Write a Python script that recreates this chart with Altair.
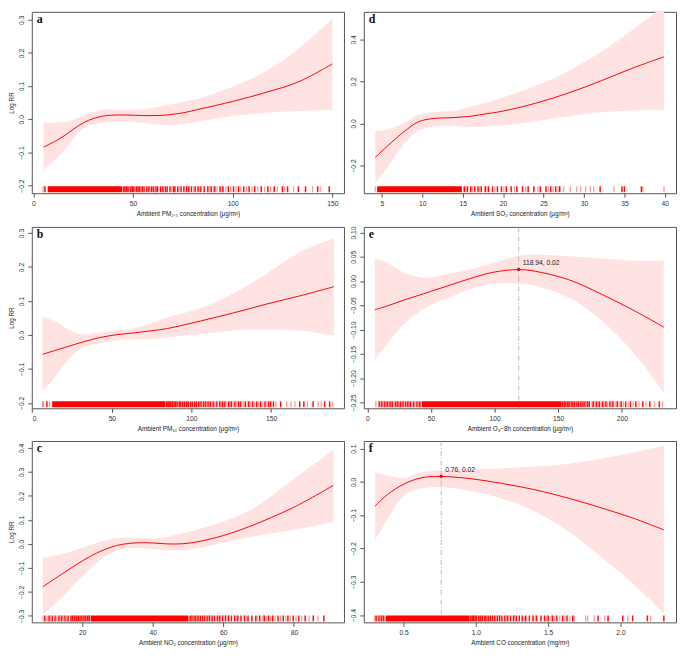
import altair as alt
import pandas as pd

W, H = 315, 183

# ---------------- panel a : PM2.5 ----------------
A_X = [5.1, 12.8, 17.8, 22.7, 27.7, 34.3, 42.5, 50.7, 59.0, 67.2, 75.4, 83.6, 100.1, 116.6, 133.0, 150.0]
A_FIT = [-0.084, -0.060, -0.040, -0.019, -0.003, 0.009, 0.013, 0.012, 0.011, 0.013, 0.020, 0.031, 0.054, 0.081, 0.113, 0.167]
A_LO = [-0.154, -0.111, -0.077, -0.040, -0.019, -0.011, -0.006, -0.008, -0.014, -0.017, -0.014, -0.006, 0.010, 0.020, 0.025, 0.028]
A_HI = [-0.011, -0.010, -0.006, 0.005, 0.018, 0.028, 0.029, 0.028, 0.034, 0.043, 0.053, 0.064, 0.099, 0.145, 0.213, 0.303]
A_RUG_BLOCK = [7.2, 44.6]
A_RUG_STRONG = [5.8, 45.3, 46.0, 46.8, 47.5, 48.9, 49.6, 50.4, 51.8, 52.5, 53.3, 54.6, 55.5, 56.9, 58.0, 59.2,
                60.1, 61.5, 62.3, 63.8, 65.0, 66.2, 67.1, 68.5, 70.3, 71.0, 72.4, 74.1, 75.5, 76.8, 78.0, 79.3,
                81.2, 82.6, 84.0, 85.7, 87.5, 89.2, 91.0, 93.6, 95.1, 97.8, 100.4, 102.9, 105.5, 108.2, 111.0,
                114.3, 117.6, 120.8, 124.9, 127.5, 132.9, 136.5, 142.6, 148.4]
A_RUG_LIGHT = [4.9, 48.2, 51.1, 54.0, 57.6, 60.8, 64.5, 69.4, 73.2, 77.5, 80.4, 83.3, 88.4, 90.3, 92.2, 94.5,
               96.5, 99.0, 101.7, 104.0, 106.8, 109.7, 112.6, 116.0, 119.0, 122.4, 126.0, 130.5, 140.1, 143.9]

# ---------------- panel d : SO2 ----------------
D_X = [4.19, 5.77, 7.8, 9.43, 11.05, 13.9, 15.9, 17.95, 20.0, 24.0, 28.1, 32.2, 36.2, 39.9]
D_FIT = [-0.162, -0.105, -0.038, 0.006, 0.022, 0.028, 0.034, 0.046, 0.059, 0.096, 0.145, 0.204, 0.266, 0.317]
D_LO = [-0.283, -0.205, -0.097, -0.036, -0.017, -0.012, -0.017, -0.015, -0.009, 0.011, 0.034, 0.053, 0.062, 0.065]
D_HI = [-0.036, -0.028, 0.003, 0.040, 0.053, 0.060, 0.080, 0.100, 0.124, 0.178, 0.250, 0.343, 0.451, 0.560]
D_RUG_BLOCK = [4.43, 14.9]
D_RUG_STRONG = [15.2, 15.6, 16.0, 16.5, 16.9, 17.3, 17.8, 18.2, 18.7, 19.3, 19.8, 20.4, 21.0, 21.7, 22.4, 23.1,
                23.8, 24.6, 25.3, 25.9, 26.5, 27.0, 32.0, 34.7, 35.0, 37.1]
D_RUG_LIGHT = [4.19, 15.4, 16.2, 17.1, 18.0, 19.0, 20.1, 21.4, 22.8, 24.3, 25.6, 26.2, 26.8, 27.5, 28.3, 29.1,
               29.6, 30.2, 30.8, 31.2, 33.7, 37.3, 39.9]

# ---------------- panel b : PM10 ----------------
B_X = [6.45, 14.1, 22.5, 30.8, 43.3, 53.7, 64.1, 74.5, 84.9, 105.7, 126.5, 147.3, 168.1, 189.5]
B_FIT = [-0.057, -0.046, -0.034, -0.022, -0.007, 0.001, 0.006, 0.012, 0.019, 0.041, 0.065, 0.091, 0.115, 0.142]
B_LO = [-0.165, -0.125, -0.074, -0.040, -0.024, -0.016, -0.013, -0.012, -0.007, 0.003, 0.013, 0.017, 0.013, -0.002]
B_HI = [0.053, 0.041, 0.017, 0.002, 0.008, 0.014, 0.020, 0.034, 0.051, 0.079, 0.123, 0.181, 0.243, 0.285]
B_RUG_BLOCK = [12.5, 83.6]
B_RUG_STRONG = [9.2, 84.4, 85.2, 86.0, 86.9, 88.0, 89.0, 89.8, 91.0, 92.3, 93.1, 94.5, 95.6, 96.8, 98.0, 99.4,
                100.5, 101.9, 103.2, 104.6, 106.0, 107.5, 109.0, 110.4, 112.0, 113.6, 116.0, 117.8, 119.5,
                121.0, 123.4, 125.0, 127.3, 129.5, 131.0, 133.8, 136.0, 138.4, 141.0, 143.5, 146.2, 148.5,
                149.8, 151.5, 156.0, 168.0, 170.6, 176.4, 183.7, 186.8]
B_RUG_LIGHT = [6.4, 7.0, 10.8, 85.6, 87.5, 90.5, 93.8, 97.4, 102.5, 105.3, 108.2, 111.2, 114.4, 115.4, 118.6,
               120.2, 122.3, 124.2, 126.1, 128.4, 130.2, 132.5, 135.0, 137.2, 139.7, 142.2, 144.8, 147.4,
               153.0, 159.8, 162.5, 165.0, 172.9, 179.6, 181.5, 188.7]

# ---------------- panel e : O3-8h ----------------
E_X = [5.9, 16.0, 28.9, 44.4, 54.8, 67.7, 80.6, 98.7, 118.6, 132.3, 158.1, 184.0, 209.8, 233.0]
E_FIT = [-0.059, -0.051, -0.039, -0.026, -0.017, -0.006, 0.005, 0.018, 0.0236, 0.020, 0.003, -0.027, -0.061, -0.095]
E_LO = [-0.162, -0.128, -0.088, -0.057, -0.044, -0.030, -0.017, -0.005, -0.005, -0.010, -0.034, -0.081, -0.149, -0.230]
E_HI = [0.046, 0.037, 0.017, 0.007, 0.010, 0.017, 0.024, 0.037, 0.052, 0.054, 0.051, 0.047, 0.042, 0.043]
E_RUG_BLOCK = [42.9, 152.7]
E_RUG_STRONG = [9.3, 11.4, 13.7, 15.7, 17.8, 19.6, 22.2, 24.0, 26.1, 28.1, 29.9, 31.8, 33.8, 36.4, 39.0, 41.1,
                153.5, 154.8, 156.0, 157.4, 158.6, 160.2, 161.5, 163.0, 164.7, 166.1, 167.8, 169.5, 171.0,
                172.8, 174.4, 177.5, 180.0, 182.3, 185.0, 187.5, 190.6, 193.0, 196.4, 199.5, 203.0, 206.8,
                211.0, 216.5, 222.0, 229.5]
E_RUG_LIGHT = [6.7, 10.5, 12.6, 14.8, 16.8, 18.7, 21.0, 23.1, 25.0, 27.1, 30.8, 32.8, 35.0, 37.7, 40.0, 42.0,
               155.4, 158.0, 162.2, 165.5, 168.6, 173.5, 176.6, 178.8, 181.2, 183.8, 186.2, 188.8, 191.8,
               194.8, 198.0, 201.2, 205.0, 209.0, 213.5, 219.0, 225.5, 232.0]
E_PEAK_X = [118.94]
E_PEAK_Y = [0.024]
E_PEAK_LABEL = ["118.94, 0.02"]

# ---------------- panel c : NO2 ----------------
C_X = [8.8, 14.1, 20.0, 25.3, 30.0, 34.7, 40.0, 44.1, 48.8, 53.4, 60.0, 67.5, 80.0, 91.2]
C_FIT = [-0.179, -0.127, -0.071, -0.030, -0.006, 0.004, 0.004, 0.000, 0.001, 0.011, 0.035, 0.073, 0.153, 0.244]
C_LO = [-0.295, -0.225, -0.136, -0.065, -0.027, -0.016, -0.021, -0.027, -0.026, -0.016, 0.005, 0.028, 0.059, 0.090]
C_HI = [-0.058, -0.043, -0.017, 0.010, 0.025, 0.027, 0.023, 0.030, 0.045, 0.063, 0.093, 0.140, 0.270, 0.392]
C_RUG_BLOCK = [22.4, 50.1]
C_RUG_STRONG = [9.4, 10.6, 11.5, 12.3, 13.4, 14.2, 15.1, 16.0, 16.8, 17.3, 17.8, 18.3, 18.9, 19.4, 19.9, 20.5,
                21.0, 21.5, 22.0, 50.6, 51.1, 51.7, 52.2, 52.8, 53.5, 54.1, 54.7, 55.4, 56.1, 56.8, 57.5, 58.3,
                59.0, 59.8, 60.6, 61.5, 62.3, 63.2, 64.1, 65.0, 66.0, 67.0, 68.1, 69.2, 70.3, 71.6, 72.8, 74.0,
                75.5, 77.0, 78.3, 79.8, 81.4, 83.2, 85.5, 88.5]
C_RUG_LIGHT = [8.9, 10.0, 11.0, 12.8, 13.8, 14.7, 15.6, 17.1, 18.6, 20.2, 21.8, 53.1, 55.8, 58.7, 61.1, 63.7,
               66.5, 69.7, 71.2, 72.2, 73.4, 74.7, 76.2, 77.7, 79.0, 80.6, 82.2, 84.3, 86.8]

# ---------------- panel f : CO ----------------
F_X = [0.302, 0.391, 0.505, 0.618, 0.748, 0.959, 1.186, 1.414, 1.641, 1.868, 2.095, 2.300]
F_FIT = [-0.073, -0.037, -0.006, 0.012, 0.0165, 0.010, -0.005, -0.024, -0.049, -0.078, -0.110, -0.144]
F_LO = [-0.176, -0.110, -0.040, -0.020, -0.015, -0.027, -0.051, -0.090, -0.149, -0.226, -0.309, -0.396]
F_HI = [0.029, 0.019, 0.012, 0.028, 0.034, 0.039, 0.041, 0.046, 0.055, 0.070, 0.089, 0.109]
F_RUG_BLOCK = [0.377, 0.957]
F_RUG_STRONG = [0.31, 0.33, 0.345, 0.36, 0.965, 0.975, 0.985, 0.995, 1.005, 1.02, 1.03, 1.045, 1.06, 1.07,
                1.085, 1.10, 1.115, 1.13, 1.15, 1.165, 1.18, 1.20, 1.22, 1.24, 1.26, 1.28, 1.30, 1.32, 1.345,
                1.37, 1.395, 1.42, 1.45, 1.475, 1.50, 1.53, 1.56, 1.60, 1.63, 1.67, 1.845, 1.914, 2.016,
                2.084, 2.186, 2.3]
F_RUG_LIGHT = [0.30, 0.32, 0.35, 0.37, 1.04, 1.09, 1.14, 1.21, 1.27, 1.335, 1.41, 1.49, 1.52, 1.545, 1.58,
               1.615, 1.65, 1.68, 1.759, 1.773, 1.818, 1.89, 2.05, 2.209]
F_PEAK_X = [0.76]
F_PEAK_Y = [0.017]
F_PEAK_LABEL = ["0.76, 0.02"]

RED = "#ff0000"
BAND = "#ffe3e3"
INTERP = "catmull-rom"


def panel(letter, xs, fit, lo, hi, block, strong, light, xdom, ydom, xvals, yvals, xfmt, yfmt,
          xtitle, left, peak=None):
    xs_ = alt.Scale(domain=xdom, nice=False, zero=False)
    ys_ = alt.Scale(domain=ydom, nice=False, zero=False)
    curve = pd.DataFrame({"x": xs, "fit": fit, "lo": lo, "hi": hi})
    xaxis = alt.Axis(values=xvals, format=xfmt, title=xtitle, labelOverlap=False)
    common = dict(values=yvals, format=yfmt, labelOverlap=False, labelAngle=270, labelAlign="center",
                  labelBaseline="bottom", labelSeparation=0, labelBound=False, labelFlush=False)
    if left:
        yaxis = alt.Axis(title="Log RR", **common)
    else:
        yaxis = alt.Axis(title=None, **common)
    band = alt.Chart(curve).mark_area(color=BAND, interpolate=INTERP, clip=True).encode(
        x=alt.X("x:Q", scale=xs_, axis=xaxis),
        y=alt.Y("lo:Q", scale=ys_, axis=yaxis),
        y2="hi:Q",
    )
    line = alt.Chart(curve).mark_line(color=RED, strokeWidth=1, interpolate=INTERP, clip=True).encode(
        x=alt.X("x:Q", scale=xs_, axis=xaxis), y=alt.Y("fit:Q", scale=ys_, axis=yaxis)
    )
    blk = alt.Chart(pd.DataFrame({"x": [block[0]], "x2": [block[1]]})).mark_rect(color=RED).encode(
        x=alt.X("x:Q", scale=xs_, axis=xaxis), x2="x2:Q", y=alt.value(H - 7), y2=alt.value(H - 1)
    )
    rs = alt.Chart(pd.DataFrame({"x": strong})).mark_rule(color=RED, strokeWidth=1.5, opacity=0.95).encode(
        x=alt.X("x:Q", scale=xs_, axis=xaxis), y=alt.value(H - 7), y2=alt.value(H - 1)
    )
    rl = alt.Chart(pd.DataFrame({"x": light})).mark_rule(color=RED, strokeWidth=1.3, opacity=0.4).encode(
        x=alt.X("x:Q", scale=xs_, axis=xaxis), y=alt.value(H - 7), y2=alt.value(H - 1)
    )
    lt = alt.Chart(pd.DataFrame({"t": [letter]})).mark_text(
        font="Liberation Serif", fontWeight="bold", fontSize=12, align="left", baseline="top", color="#111"
    ).encode(x=alt.value(5), y=alt.value(2), text="t:N")
    layers = [band, line, blk, rl, rs, lt]
    if peak is not None:
        pdf = pd.DataFrame({"x": peak[0], "y": peak[1], "lab": peak[2]})
        vr = alt.Chart(pdf).mark_rule(color="#aaaaaa", strokeWidth=0.8, strokeDash=[5, 2, 1, 2]).encode(
            x=alt.X("x:Q", scale=xs_, axis=xaxis)
        )
        pt = alt.Chart(pdf).mark_point(filled=True, color=RED, size=12, opacity=1).encode(
            x=alt.X("x:Q", scale=xs_, axis=xaxis), y=alt.Y("y:Q", scale=ys_, axis=yaxis)
        )
        tx = alt.Chart(pdf).mark_text(
            align="left", baseline="middle", dx=4, dy=-6, fontSize=6.8, font="Liberation Sans", color="#222"
        ).encode(x=alt.X("x:Q", scale=xs_, axis=xaxis), y=alt.Y("y:Q", scale=ys_, axis=yaxis), text="lab:N")
        layers = [band, vr, line, blk, rl, rs, lt, pt, tx]
    return alt.layer(*layers).properties(width=W, height=H)


pa = panel("a", A_X, A_FIT, A_LO, A_HI, A_RUG_BLOCK, A_RUG_STRONG, A_RUG_LIGHT,
           [-0.8, 155.8], [-0.223, 0.324], [0, 50, 100, 150], [-0.2, -0.1, 0, 0.1, 0.2, 0.3], "d", ".1f",
           "Ambient PM₂.₅ concentration (μg/m³)", True)
pd_ = panel("d", D_X, D_FIT, D_LO, D_HI, D_RUG_BLOCK, D_RUG_STRONG, D_RUG_LIGHT,
            [2.78, 41.38], [-0.332, 0.531], [5, 10, 15, 20, 25, 30, 35, 40], [-0.2, 0, 0.2, 0.4], "d", ".1f",
            "Ambient SO₂ concentration (μg/m³)", False)
pb = panel("b", B_X, B_FIT, B_LO, B_HI, B_RUG_BLOCK, B_RUG_STRONG, B_RUG_LIGHT,
           [-0.3, 195.8], [-0.216, 0.318], [0, 50, 100, 150], [-0.2, -0.1, 0, 0.1, 0.2, 0.3], "d", ".1f",
           "Ambient PM₁₀ concentration (μg/m³)", True)
pe = panel("e", E_X, E_FIT, E_LO, E_HI, E_RUG_BLOCK, E_RUG_STRONG, E_RUG_LIGHT,
           [-2.8, 242.6], [-0.262, 0.1115], [0, 50, 100, 150, 200],
           [-0.25, -0.2, -0.15, -0.1, -0.05, 0, 0.05, 0.1], "d", ".2f",
           "Ambient O₃−8h concentration (μg/m³)", False, (E_PEAK_X, E_PEAK_Y, E_PEAK_LABEL))
pc = panel("c", C_X, C_FIT, C_LO, C_HI, C_RUG_BLOCK, C_RUG_STRONG, C_RUG_LIGHT,
           [5.7, 94.2], [-0.327, 0.429], [20, 40, 60, 80], [-0.3, -0.2, -0.1, 0, 0.1, 0.2, 0.3, 0.4], "d", ".1f",
           "Ambient NO₂ concentration (μg/m³)", True)
pf = panel("f", F_X, F_FIT, F_LO, F_HI, F_RUG_BLOCK, F_RUG_STRONG, F_RUG_LIGHT,
           [0.225, 2.384], [-0.422, 0.123], [0.5, 1.0, 1.5, 2.0], [-0.4, -0.3, -0.2, -0.1, 0, 0.1], ".1f", ".1f",
           "Ambient CO concentration (mg/m³)", False, (F_PEAK_X, F_PEAK_Y, F_PEAK_LABEL))

chart = alt.vconcat(
    alt.hconcat(pa, pd_, spacing=5),
    alt.hconcat(pb, pe, spacing=5),
    alt.hconcat(pc, pf, spacing=5),
    spacing=7,
).properties(padding=0).configure_view(
    stroke="#555555", strokeWidth=1
).configure_axis(
    grid=False, domain=False, tickSize=4, tickColor="#555555", labelColor="#333333",
    titleColor="#222222", labelFont="Liberation Sans", titleFont="Liberation Sans",
    labelFontSize=6.8, titleFontSize=6.4, titleFontWeight="normal", labelPadding=3, titlePadding=4,
    labelOverlap=False,
).configure_axisY(
    labelOverlap=False
)

chart.save("out.html", embed_options={"renderer": "svg", "actions": False})
